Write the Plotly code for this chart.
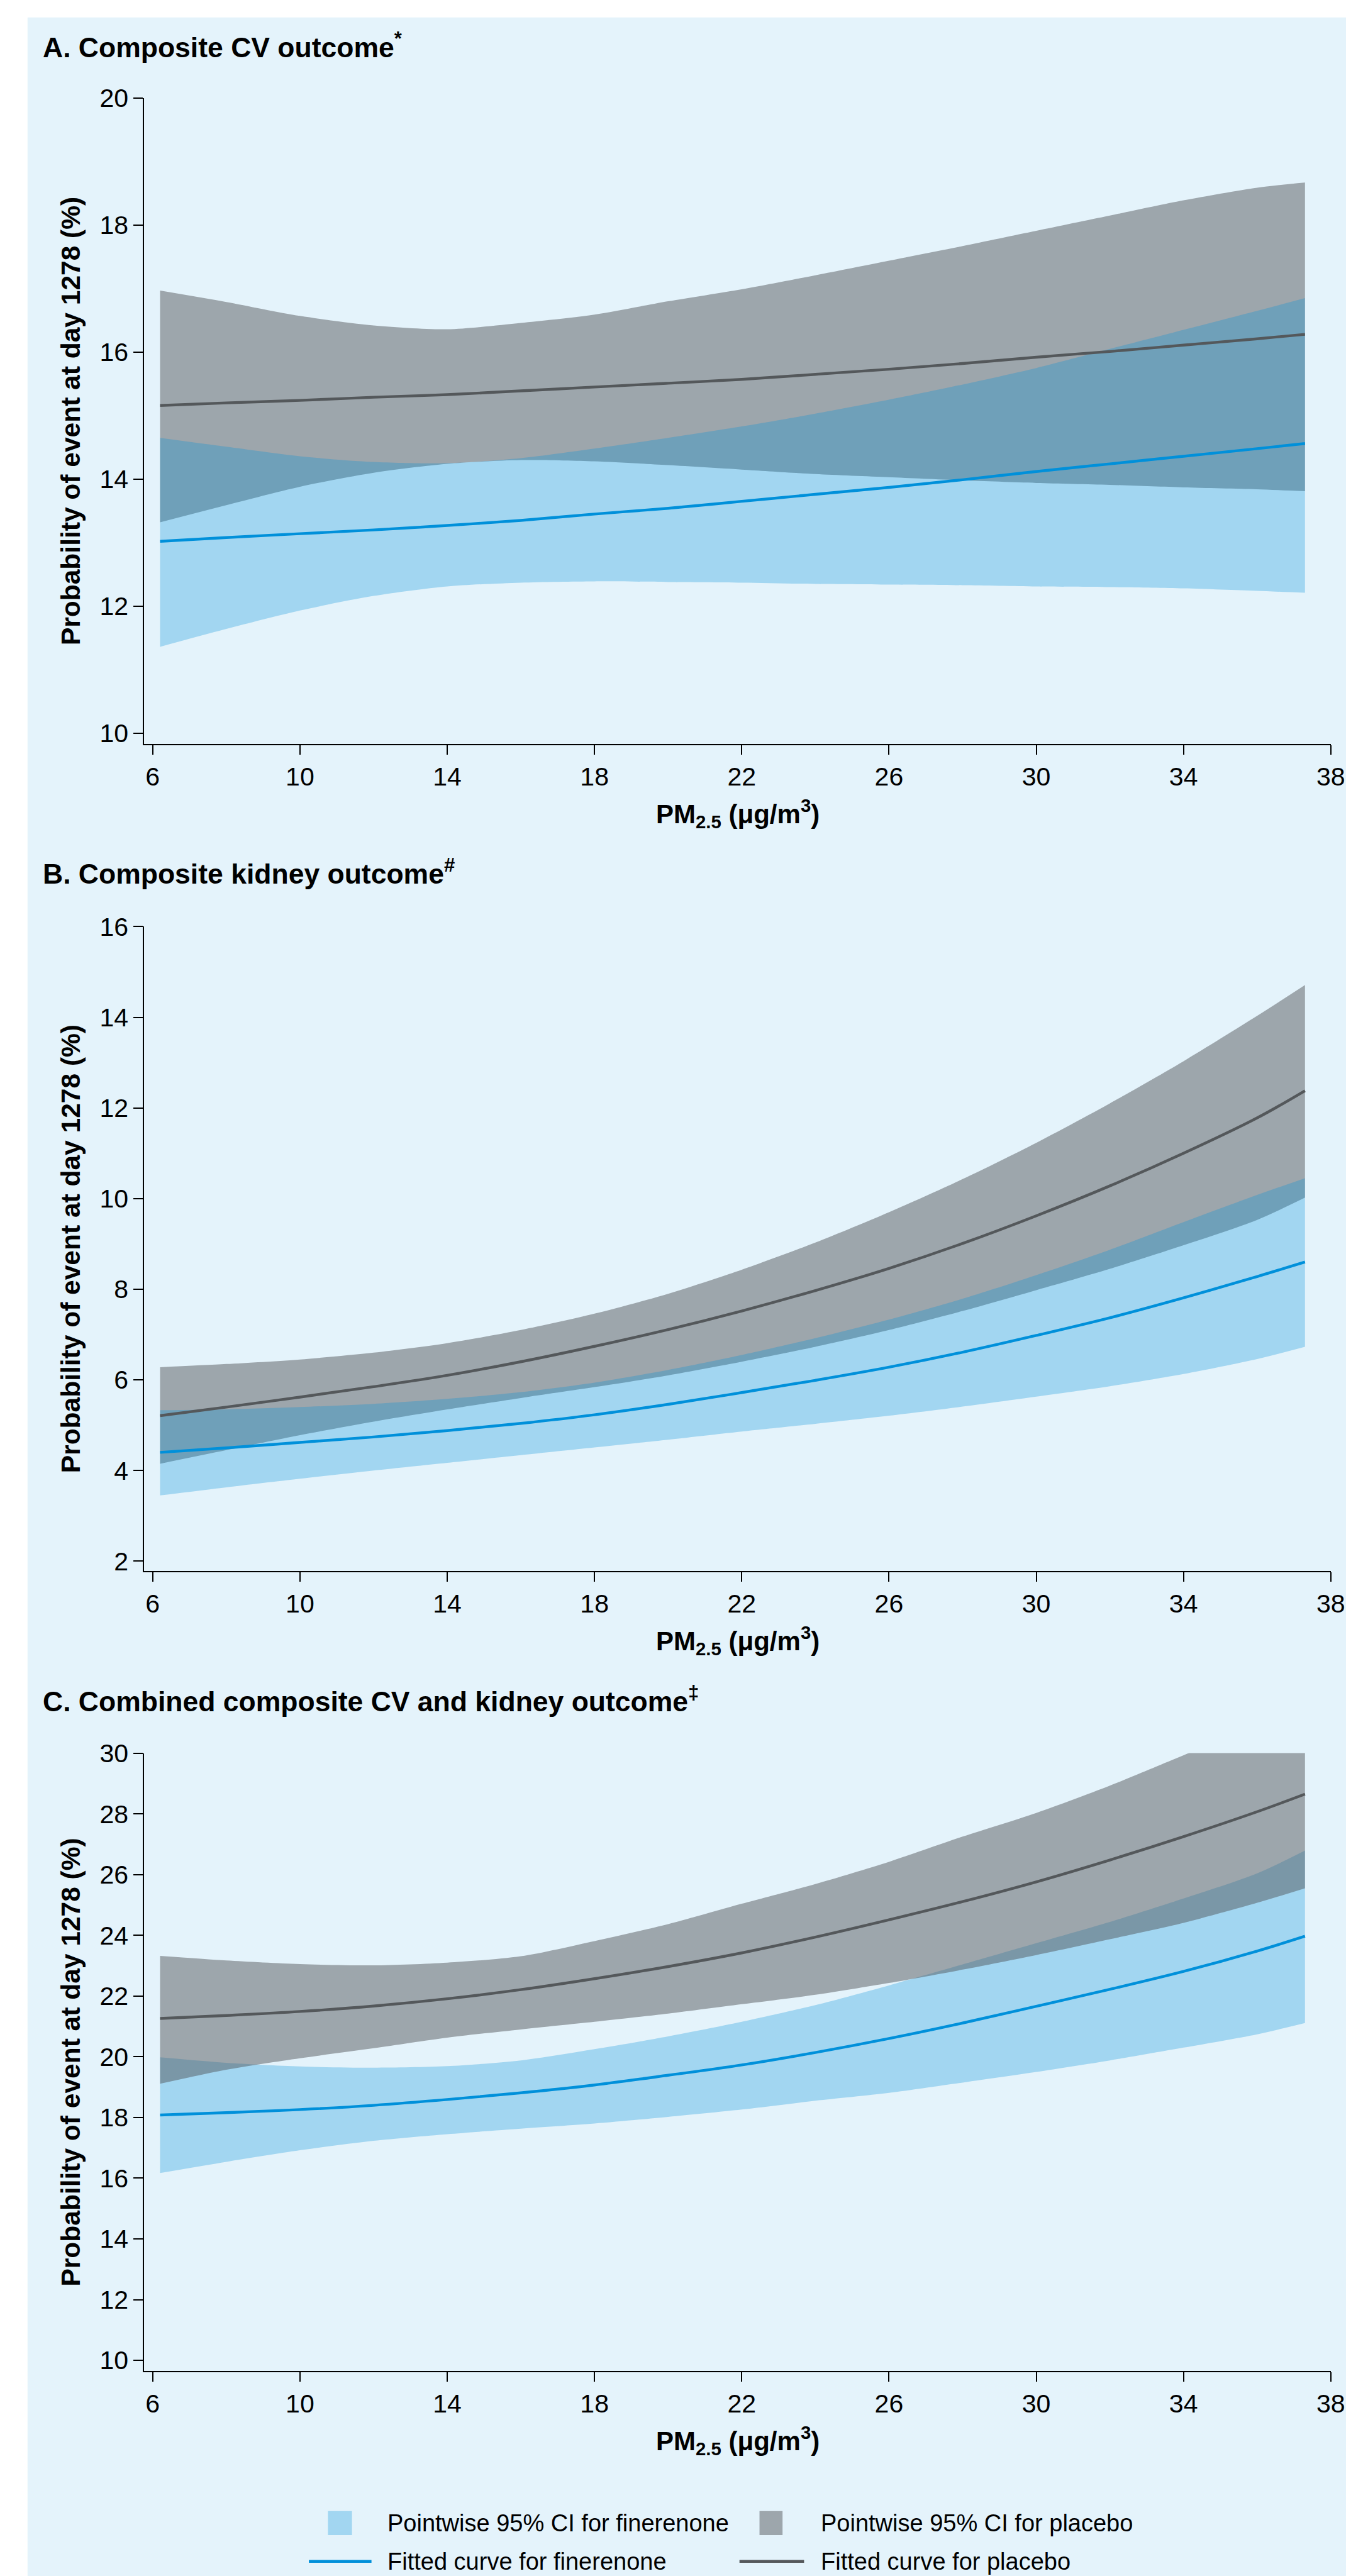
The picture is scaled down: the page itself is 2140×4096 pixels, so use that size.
import plotly.graph_objects as go

# ---------------- data ----------------
pm25 = [6.2, 8, 10, 12, 14, 16, 18, 20, 22, 24, 26, 28, 30, 32, 34, 36, 37.3]
x_ticks = [6, 10, 14, 18, 22, 26, 30, 34, 38]

# Panel A: composite CV outcome
a_fin_fit = [13.02, 13.08, 13.14, 13.20, 13.27, 13.35, 13.45, 13.54, 13.65, 13.76, 13.87, 13.99, 14.12, 14.24, 14.36, 14.48, 14.56]
a_fin_lo = [11.36, 11.64, 11.93, 12.16, 12.31, 12.37, 12.39, 12.38, 12.37, 12.35, 12.34, 12.33, 12.31, 12.30, 12.28, 12.24, 12.21]
a_fin_hi = [14.65, 14.51, 14.36, 14.27, 14.25, 14.33, 14.48, 14.65, 14.83, 15.03, 15.25, 15.49, 15.75, 16.05, 16.35, 16.65, 16.85]
a_pla_fit = [15.16, 15.20, 15.24, 15.29, 15.33, 15.39, 15.45, 15.51, 15.57, 15.65, 15.73, 15.82, 15.92, 16.01, 16.11, 16.21, 16.28]
a_pla_lo = [13.32, 13.59, 13.88, 14.10, 14.24, 14.30, 14.28, 14.22, 14.15, 14.08, 14.03, 13.98, 13.94, 13.91, 13.87, 13.84, 13.81]
a_pla_hi = [16.97, 16.79, 16.57, 16.42, 16.36, 16.46, 16.59, 16.80, 16.99, 17.21, 17.44, 17.67, 17.91, 18.15, 18.39, 18.59, 18.67]

# Panel B: composite kidney outcome
b_fin_fit = [4.40, 4.50, 4.62, 4.74, 4.88, 5.04, 5.23, 5.46, 5.72, 5.99, 6.28, 6.61, 6.98, 7.37, 7.81, 8.28, 8.60]
b_fin_lo = [3.45, 3.63, 3.82, 4.00, 4.17, 4.34, 4.51, 4.68, 4.86, 5.03, 5.21, 5.41, 5.63, 5.86, 6.13, 6.46, 6.73]
b_fin_hi = [5.33, 5.35, 5.40, 5.47, 5.58, 5.73, 5.94, 6.22, 6.55, 6.92, 7.33, 7.79, 8.31, 8.87, 9.48, 10.08, 10.45]
b_pla_fit = [5.21, 5.40, 5.62, 5.85, 6.10, 6.40, 6.74, 7.11, 7.52, 7.97, 8.46, 9.01, 9.62, 10.28, 11.00, 11.78, 12.38]
b_pla_lo = [4.15, 4.45, 4.78, 5.08, 5.35, 5.60, 5.84, 6.10, 6.40, 6.73, 7.10, 7.52, 7.98, 8.45, 8.97, 9.53, 10.02]
b_pla_hi = [6.28, 6.35, 6.45, 6.60, 6.81, 7.10, 7.46, 7.90, 8.43, 9.03, 9.70, 10.43, 11.23, 12.10, 13.03, 14.03, 14.71]

# Panel C: combined composite CV and kidney outcome
c_fin_fit = [18.08, 18.16, 18.26, 18.40, 18.59, 18.81, 19.07, 19.39, 19.73, 20.14, 20.60, 21.11, 21.66, 22.22, 22.81, 23.48, 23.97]
c_fin_lo = [16.17, 16.54, 16.92, 17.23, 17.45, 17.63, 17.80, 18.02, 18.26, 18.55, 18.81, 19.15, 19.50, 19.88, 20.30, 20.74, 21.11]
c_fin_hi = [19.98, 19.80, 19.68, 19.64, 19.69, 19.88, 20.25, 20.67, 21.15, 21.70, 22.35, 23.04, 23.74, 24.44, 25.21, 26.04, 26.79]
c_pla_fit = [21.26, 21.36, 21.49, 21.67, 21.91, 22.21, 22.57, 22.97, 23.42, 23.94, 24.51, 25.11, 25.76, 26.48, 27.25, 28.07, 28.65]
c_pla_lo = [19.11, 19.57, 19.95, 20.28, 20.63, 20.90, 21.15, 21.42, 21.73, 22.04, 22.43, 22.87, 23.35, 23.87, 24.41, 25.07, 25.55]
c_pla_hi = [23.32, 23.17, 23.05, 23.01, 23.10, 23.31, 23.81, 24.37, 25.04, 25.69, 26.42, 27.25, 28.03, 28.93, 29.93, 30.92, 31.54]

panel_titles = ["A. Composite CV outcome<sup>*</sup>",
                "B. Composite kidney outcome<sup>#</sup>",
                "C. Combined composite CV and kidney outcome<sup>‡</sup>"]
y_ranges = [[9.83, 20], [1.785, 16], [9.645, 30]]
y_title = "Probability of event at day 1278 (%)"
x_title = "PM<sub>2.5</sub> (μg/m<sup>3</sup>)"
legend_labels = ["Pointwise 95% CI for finerenone", "Pointwise 95% CI for placebo",
                 "Fitted curve for finerenone", "Fitted curve for placebo"]

# ---------------- styling / layout ----------------
W, H = 2140, 4096
S = 0.796
FONT = "Liberation Sans, Arial, Helvetica, sans-serif"
BG = "rgb(228,243,251)"
BLUE = "rgb(0,144,218)"
GRAY_LINE = "rgb(84,88,91)"
BLUE_FILL = "rgba(0,144,218,0.29)"
GRAY_FILL = "rgba(80,81,85,0.48)"
LINE_W = 4.4


def fx(ref_px):
    return ref_px * S / W


def fy(ref_px):
    return 1 - ref_px * S / H


# reference pixel geometry of each panel: (top tick y, x-axis line y, title cap-centre y)
geo = [(196, 1486, 90), (1851, 3138, 1741), (3502, 4736.5, 3395)]
X_LEFT, X_RIGHT = 288, 2658

panels = [
    (a_fin_fit, a_fin_lo, a_fin_hi, a_pla_fit, a_pla_lo, a_pla_hi, True),
    (b_fin_fit, b_fin_lo, b_fin_hi, b_pla_fit, b_pla_lo, b_pla_hi, True),
    (c_fin_fit, c_fin_lo, c_fin_hi, c_pla_fit, c_pla_lo, c_pla_hi, False),
]

fig = go.Figure()
layout = dict(
    template="none",
    width=W, height=H, autosize=False,
    margin=dict(l=0, r=0, t=0, b=0, pad=0, autoexpand=False),
    paper_bgcolor=BG, plot_bgcolor="rgba(0,0,0,0)",
    showlegend=False,
    font=dict(family=FONT, color="black"),
    shapes=[], annotations=[],
)

# white strips (left and top) of the original page
layout["shapes"].append(dict(type="rect", xref="paper", yref="paper", layer="below",
                             x0=0.0, x1=fx(55), y0=0.0, y1=1.0,
                             fillcolor="white", line=dict(width=0)))
layout["shapes"].append(dict(type="rect", xref="paper", yref="paper", layer="below",
                             x0=0.0, x1=1.0, y0=fy(35), y1=1.0,
                             fillcolor="white", line=dict(width=0)))


def band(xa, ya, upper, lower, color):
    fig.add_trace(go.Scatter(x=pm25, y=upper, mode="lines", xaxis=xa, yaxis=ya,
                             line=dict(width=0, shape="spline", smoothing=0.8),
                             hoverinfo="skip"))
    fig.add_trace(go.Scatter(x=pm25, y=lower, mode="lines", xaxis=xa, yaxis=ya,
                             line=dict(width=0, shape="spline", smoothing=0.8),
                             fill="tonexty", fillcolor=color, hoverinfo="skip"))


for i, (ffit, flo, fhi, pfit, plo, phi, gray_first) in enumerate(panels):
    n = "" if i == 0 else str(i + 1)
    xa, ya = "x" + n, "y" + n
    top, bot, tcy = geo[i]
    if gray_first:
        band(xa, ya, phi, plo, GRAY_FILL)
        band(xa, ya, fhi, flo, BLUE_FILL)
    else:
        band(xa, ya, fhi, flo, BLUE_FILL)
        band(xa, ya, phi, plo, GRAY_FILL)
    fig.add_trace(go.Scatter(x=pm25, y=pfit, mode="lines", xaxis=xa, yaxis=ya,
                             line=dict(color=GRAY_LINE, width=LINE_W, shape="spline")))
    fig.add_trace(go.Scatter(x=pm25, y=ffit, mode="lines", xaxis=xa, yaxis=ya,
                             line=dict(color=BLUE, width=LINE_W, shape="spline")))

    axis_common = dict(showgrid=False, zeroline=False, showline=True, linecolor="black",
                       linewidth=2, ticks="outside", ticklen=15, tickwidth=1.6,
                       tickcolor="black", automargin=False,
                       tickfont=dict(family=FONT, size=41, color="black"))
    layout["xaxis" + n] = dict(axis_common, domain=[fx(X_LEFT), fx(X_RIGHT)],
                               range=[5.769, 38], tickvals=x_ticks, anchor=ya)
    layout["yaxis" + n] = dict(axis_common, domain=[fy(bot), fy(top)],
                               range=y_ranges[i], dtick=2, tick0=0, anchor=xa)

    # panel title
    layout["annotations"].append(dict(xref="paper", yref="paper", x=fx(83), y=fy(tcy),
                                      xanchor="left", yanchor="middle", showarrow=False,
                                      text="<b>" + panel_titles[i] + "</b>",
                                      font=dict(family=FONT, size=44.5, color="black")))
    # y-axis title
    layout["annotations"].append(dict(xref="paper", yref="paper", x=fx(141.5),
                                      y=(fy(bot) + fy(top)) / 2, textangle=-90,
                                      xanchor="center", yanchor="middle", showarrow=False,
                                      text="<b>" + y_title + "</b>",
                                      font=dict(family=FONT, size=42.5, color="black")))
    # x-axis title
    layout["annotations"].append(dict(xref="paper", yref="paper",
                                      x=(fx(X_LEFT) + fx(X_RIGHT)) / 2, y=fy(bot + 139),
                                      xanchor="center", yanchor="middle", showarrow=False,
                                      text="<b>" + x_title + "</b>",
                                      font=dict(family=FONT, size=42, color="black")))

# ---------------- legend (two rows, two columns) ----------------
row_y = [5040, 5116.5]
layout["shapes"].append(dict(type="rect", xref="paper", yref="paper", x0=fx(655), x1=fx(703),
                             y0=fy(5064), y1=fy(5016), fillcolor=BLUE_FILL, line=dict(width=0)))
layout["shapes"].append(dict(type="rect", xref="paper", yref="paper", x0=fx(1517), x1=fx(1563),
                             y0=fy(5064), y1=fy(5016), fillcolor=GRAY_FILL, line=dict(width=0)))
layout["shapes"].append(dict(type="line", xref="paper", yref="paper", x0=fx(617), x1=fx(742),
                             y0=fy(row_y[1]), y1=fy(row_y[1]), line=dict(color=BLUE, width=LINE_W)))
layout["shapes"].append(dict(type="line", xref="paper", yref="paper", x0=fx(1477), x1=fx(1606),
                             y0=fy(row_y[1]), y1=fy(row_y[1]), line=dict(color=GRAY_LINE, width=LINE_W)))
for k, lab in enumerate(legend_labels):
    col_x = [771, 1637][k % 2]
    layout["annotations"].append(dict(xref="paper", yref="paper", x=fx(col_x), y=fy(row_y[k // 2]),
                                      xanchor="left", yanchor="middle", showarrow=False, text=lab,
                                      font=dict(family=FONT, size=38, color="black")))

fig.update_layout(**layout)
fig.write_html(
    "out.html",
    config={"displayModeBar": False},
    post_script=(
        "document.body.style.margin='0';document.body.style.padding='0';"
        "document.body.style.overflow='hidden';"
    ),
)
